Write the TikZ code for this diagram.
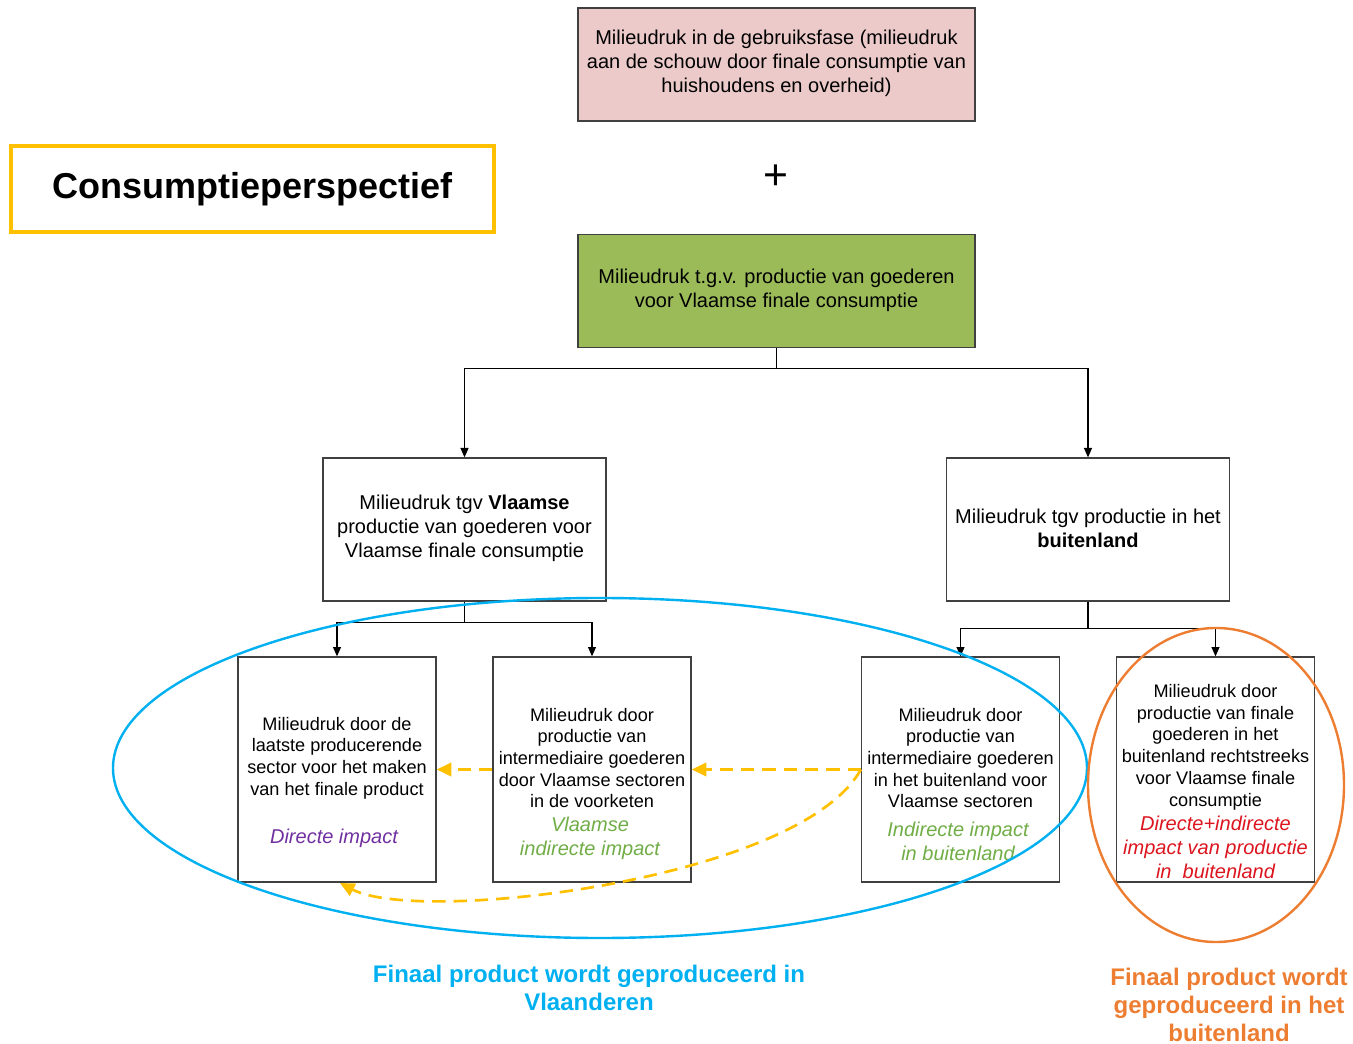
\documentclass[tikz,border=0pt]{standalone}
\usepackage{fontspec}
\setmainfont{Liberation Sans}
\usetikzlibrary{arrows.meta,calc}
\definecolor{pinkfill}{RGB}{236,202,202}
\definecolor{greenfill}{RGB}{155,187,89}
\definecolor{boxline}{RGB}{64,64,64}
\definecolor{ygold}{RGB}{255,192,0}
\definecolor{cyanb}{RGB}{0,176,240}
\definecolor{orng}{RGB}{237,125,49}
\definecolor{purp}{RGB}{112,48,160}
\definecolor{grn}{RGB}{112,173,71}
\definecolor{redt}{RGB}{220,20,30}
\begin{document}
\begin{tikzpicture}[x=0.75pt,y=-0.75pt,
 box/.style={draw=boxline,line width=1pt,inner sep=0pt},
 topbox/.style={box,minimum width=297.75pt,minimum height=84.75pt},
 midbox/.style={box,minimum width=212.25pt,minimum height=107.25pt},
 lowbox/.style={box,minimum width=148.5pt,minimum height=168.75pt},
 bigtxt/.style={align=center,font=\fontsize{15}{18}\selectfont,inner sep=0pt},
 smalltxt/.style={align=center,font=\fontsize{13.6}{16.3}\selectfont,inner sep=0pt},
 imptxt/.style={align=center,inner sep=0pt,font=\fontsize{15}{18}\selectfont\itshape},
 conn/.style={draw=black,line width=0.8pt,-{Triangle[length=7pt,width=6pt]}},
 yarrow/.style={draw=ygold,line width=2pt,dash pattern=on 10pt off 6pt,-{Triangle[length=11pt,width=10pt]}},
 ell/.style={line width=1.8pt},
]
\useasboundingbox (0,0) rectangle (1353,1044);

% boxes
\node[topbox,fill=pinkfill] (pink) at (776.5,64.5) {};
\node[topbox,fill=greenfill] (green) at (776.5,291) {};
\node[draw=ygold,line width=3pt,minimum width=362.25pt,minimum height=64.5pt,
      font=\fontsize{27}{30}\selectfont\bfseries] (title) at (252.5,189) {Consumptieperspectief};
\node[font=\fontsize{32}{36}\selectfont] (plus) at (776,177) {+};
\node[midbox] (vl) at (464.5,529.5) {};
\node[midbox] (bu) at (1088,529.5) {};
\node[lowbox] (A) at (337,769.5) {};
\node[lowbox] (B) at (592,769.5) {};
\node[lowbox] (C) at (960.5,769.5) {};
\node[lowbox] (D) at (1215.5,769.5) {};

% texts
\node[bigtxt] (pinktxt) at (776.5,63) {Milieudruk in de gebruiksfase (milieudruk\\aan de schouw door finale consumptie van\\huishoudens en overheid)};
\node[bigtxt] (greentxt) at (776.5,290) {Milieudruk t.g.v. productie van goederen\\voor Vlaamse finale consumptie};
\node[bigtxt] (vltxt) at (464.5,528.5) {Milieudruk tgv \textbf{Vlaamse}\\productie van goederen voor\\Vlaamse finale consumptie};
\node[bigtxt] (butxt) at (1088,528.5) {Milieudruk tgv productie in het\\\textbf{buitenland}};

\node[smalltxt] (Atxt) at (337,758) {Milieudruk door de\\laatste producerende\\sector voor het maken\\van het finale product};
\node[imptxt,text=purp] (Aimp) at (334,838) {Directe impact};
\node[smalltxt] (Btxt) at (592,758) {Milieudruk door\\productie van\\intermediaire goederen\\door Vlaamse sectoren\\in de voorketen};
\node[imptxt,text=grn] (Bimp) at (590,838) {Vlaamse\\indirecte impact};
\node[smalltxt] (Ctxt) at (960.5,758) {Milieudruk door\\productie van\\intermediaire goederen\\in het buitenland voor\\Vlaamse sectoren};
\node[imptxt,text=grn] (Cimp) at (958,841) {Indirecte impact\\in buitenland};
\node[smalltxt] (Dtxt) at (1215.5,747) {Milieudruk door\\productie van finale\\goederen in het\\buitenland rechtstreeks\\voor Vlaamse finale\\consumptie};
\node[imptxt,text=redt] (Dimp) at (1215.5,847) {Directe+indirecte\\impact van productie\\in\ \ buitenland};

\node[align=center,inner sep=0pt,text=cyanb,font=\fontsize{18}{21}\selectfont\bfseries] (blabel) at (589,988) {Finaal product wordt geproduceerd in\\Vlaanderen};
\node[align=center,inner sep=0pt,text=orng,font=\fontsize{18}{21}\selectfont\bfseries] (olabel) at (1229,1005) {Finaal product wordt\\geproduceerd in het\\buitenland};

% connectors
\draw[conn] (green.south) -- ++(0,20) -| (vl.north);
\draw[conn] (green.south) -- ++(0,20) -| (bu.north);
\draw[conn] (vl.south) -- ++(0,21) -| (A.north);
\draw[conn] (vl.south) -- ++(0,21) -| (B.north);
\draw[conn] (bu.south) -- ++(0,27) -| (C.north);
\draw[conn] (bu.south) -- ++(0,27) -| (D.north);

% yellow dashed
\draw[yarrow] (C.west) -- (B.east);
\draw[yarrow] (B.west) -- (A.east);
\coordinate (curveend) at (340,883);
\draw[yarrow] (C.west) .. controls (800,880) and (420,925) .. (curveend);

% ellipses
\draw[ell,draw=cyanb] (600,768) ellipse [x radius=365.25pt, y radius=127.5pt];
\draw[ell,draw=orng] (1216,785) ellipse [x radius=96pt, y radius=117.75pt];
\end{tikzpicture}
\end{document}
